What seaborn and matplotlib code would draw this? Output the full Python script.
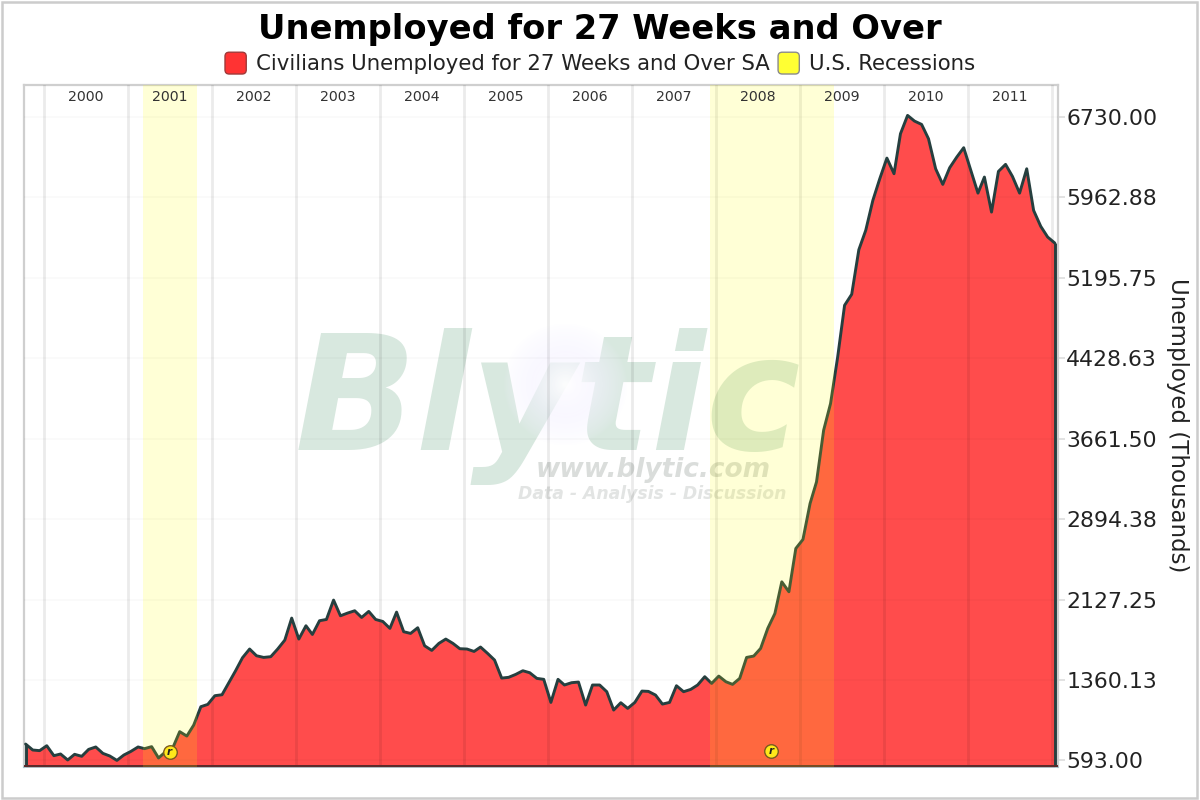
"""
plot.py
-------
Unemployed for 27 weeks and over, with U.S. recession bands.
"""

import matplotlib.pyplot as plt
import matplotlib.transforms as mtrans
from matplotlib.legend_handler import HandlerPatch
from matplotlib.patches import FancyBboxPatch, Patch, Rectangle
import numpy as np
import pandas as pd
import seaborn as sns

# ── Data ─────────────────────────────────────────────────────────────────────
FIRST_OBS = "1999-10-01"
UNEMPLOYED = [
    750, 693, 687, 734, 639, 655, 598, 652, 633, 699, 722, 661, 636, 594, 645, 680, 722, 706,
    725, 617, 677, 709, 868, 826, 931, 1106, 1128, 1211, 1220, 1328, 1449, 1573, 1656, 1592,
    1576, 1583, 1656, 1741, 1951, 1751, 1878, 1795, 1926, 1938, 2123, 1973, 1999, 2021, 1957,
    2015, 1938, 1919, 1853, 2008, 1821, 1805, 1859, 1687, 1643, 1710, 1751, 1710, 1659, 1656,
    1633, 1675, 1614, 1551, 1379, 1386, 1414, 1449, 1430, 1376, 1367, 1147, 1367, 1313, 1335,
    1341, 1122, 1313, 1313, 1249, 1074, 1144, 1090, 1147, 1255, 1252, 1217, 1131, 1147, 1306,
    1249, 1271, 1313, 1392, 1328, 1398, 1344, 1319, 1376, 1576, 1589, 1662, 1853, 1995, 2297,
    2202, 2615, 2701, 3044, 3250, 3743, 3997, 4442, 4934, 5039, 5464, 5649, 5935, 6141, 6338,
    6189, 6570, 6745, 6691, 6659, 6522, 6236, 6087, 6246, 6348, 6437, 6220, 6004, 6157, 5823,
    6211, 6278, 6163, 6004, 6236, 5839, 5687, 5585, 5528,
]
RECESSIONS = [("2001-03-05", "2001-10-28"), ("2007-12-05", "2009-05-28")]
EVENT_DATES = ["2001-06-30", "2008-08-26"]
EVENT_VALUES = [675, 685]
YEARS = list(range(2000, 2012))
YTICKS = [593.00, 1360.13, 2127.25, 2894.38, 3661.50, 4428.63, 5195.75, 5962.88, 6730.00]

TITLE = "Unemployed for 27 Weeks and Over"
SERIES_LABEL = "Civilians Unemployed for 27 Weeks and Over SA"
BAND_LABEL = "U.S. Recessions"

# ── Style ────────────────────────────────────────────────────────────────────
sns.set_theme(style="white")
plt.rcParams["font.family"] = ["DejaVu Sans"]
RED = "#FF3333"
LINE = "#263F3F"
GRID = "#000000"
TEXT = "#222222"


class RoundHandler(HandlerPatch):
    """Legend swatch with rounded corners."""

    def create_artists(self, legend, orig, xd, yd, w, h, fontsize, trans):
        box = FancyBboxPatch((-xd + 2, -yd + 1), w - 4, h - 2, boxstyle="round,pad=2,rounding_size=3",
                             facecolor=orig.get_facecolor(), edgecolor=orig.get_edgecolor(),
                             lw=1.0, transform=trans)
        return [box]


df = pd.DataFrame({
    # points sit a little after the month gridline, as in the source chart
    "date": pd.date_range(FIRST_OBS, periods=len(UNEMPLOYED), freq="MS") + pd.Timedelta(days=12),
    "unemployed": UNEMPLOYED,
})

fig = plt.figure(figsize=(12, 8), dpi=100)
ax = fig.add_axes([24 / 1200, 1 - 767 / 800, 1034 / 1200, 682 / 800])
x_left, x_right = pd.Timestamp("1999-10-06"), pd.Timestamp("2012-01-27")
y_low, y_high = 531, 7035

# ── Watermark ────────────────────────────────────────────────────────────────
ax.text(0.262, 0.465, "Blytic", transform=ax.transAxes, weight="bold", style="italic",
        fontsize=115, color="#D8E8DF", ha="left", va="baseline", zorder=1)
ax.text(0.6085, 0.435, "www.blytic.com", transform=ax.transAxes, weight="bold",
        style="italic", fontsize=19, color="#DADDDB", ha="center", va="center", zorder=1)
ax.text(0.6075, 0.401, "Data - Analysis - Discussion", transform=ax.transAxes,
        weight="bold", style="italic", fontsize=12.4, color="#E2E4E3", ha="center", va="center", zorder=1)

# soft glow behind the logo, white in the middle and lavender at the rim
gy, gx = np.mgrid[-1:1:120j, -1:1:120j]
dist = np.hypot(gx, gy)
core = np.clip(1 - dist / 0.55, 0, 1)
glow = np.zeros((120, 120, 4))
glow[..., 0] = 0.96 + 0.04 * core
glow[..., 1] = 0.95 + 0.05 * core
glow[..., 2] = 1.0
glow[..., 3] = np.clip(1 - dist, 0, 1) ** 0.7 * 0.95
ax.imshow(glow, transform=ax.transAxes, extent=(0.463, 0.583, 0.47, 0.65), aspect="auto", zorder=1.5)

# ── Area + line ──────────────────────────────────────────────────────────────
ax.fill_between(df["date"], df["unemployed"], y_low, color=RED, alpha=0.88, lw=0, zorder=2)
sns.lineplot(data=df, x="date", y="unemployed", color=LINE, lw=2.1, ax=ax, zorder=4, legend=False)
ax.vlines([df["date"].iloc[0], df["date"].iloc[-1]], y_low, [df["unemployed"].iloc[0], df["unemployed"].iloc[-1]],
          color=LINE, lw=2.1, zorder=4)
ax.axhline(y_low + 8, color="#5A2A2A", lw=1.4, zorder=4)
ax.set_xlim(x_left, x_right)
ax.set_ylim(y_low, y_high)

# ── Grid ─────────────────────────────────────────────────────────────────────
for year in YEARS + [2012]:
    ax.axvline(pd.Timestamp(f"{year}-01-01"), color=GRID, alpha=0.08, lw=2.0, zorder=3)
for tick in YTICKS:
    ax.axhline(tick, color=GRID, alpha=0.02, lw=1.5, zorder=3)

# ── Recessions ───────────────────────────────────────────────────────────────
for start, end in RECESSIONS:
    ax.axvspan(pd.Timestamp(start), pd.Timestamp(end), color="#FFFF00", alpha=0.16, lw=0, zorder=5)

# ── Events ───────────────────────────────────────────────────────────────────
event_x = pd.to_datetime(EVENT_DATES)
ax.scatter(event_x, EVENT_VALUES, s=95, c="#FFE81A", edgecolors="#7A5A20", linewidths=1.0, zorder=6)
for d, v in zip(event_x, EVENT_VALUES):
    ax.text(d, v, "r", fontsize=7.5, weight="bold", style="italic", color="#222222",
            ha="center", va="center", zorder=7)

# ── Year labels ──────────────────────────────────────────────────────────────
year_trans = mtrans.blended_transform_factory(ax.transData, ax.transAxes)
for year in YEARS:
    ax.text(pd.Timestamp(f"{year}-07-01"), 0.982, str(year), transform=year_trans, fontsize=10.2,
            color="#333333", ha="center", va="center", zorder=7)

# ── Axes ─────────────────────────────────────────────────────────────────────
ax.set_xlabel("")
ax.set_xticks([])
ax.yaxis.tick_right()
ax.set_yticks(YTICKS)
ax.set_yticklabels([f"{t:.2f}" for t in YTICKS], fontsize=15.8, color=TEXT)
ax.tick_params(axis="y", length=5, width=1.2, color="#DDDDDD", pad=1)
ax.yaxis.set_label_position("right")
ax.set_ylabel("Unemployed (Thousands)", fontsize=16.5, rotation=270, color=TEXT, va="center")
ax.yaxis.set_label_coords(1.116, 0.5015)
for side in ["top", "left", "right"]:
    ax.spines[side].set_color("#CFCFCF")
    ax.spines[side].set_linewidth(1.6)
ax.spines["bottom"].set_color("#9FC0C8")
ax.spines["bottom"].set_linewidth(1.2)

# ── Title + legend ───────────────────────────────────────────────────────────
fig.text(0.5, 1 - 30 / 800, TITLE, fontsize=24.3, weight="bold", color="#000000", ha="center", va="center")
handles = [Patch(facecolor=RED, edgecolor="#A03A3A", label=SERIES_LABEL),
           Patch(facecolor="#FFFF33", edgecolor="#8A8A8A", label=BAND_LABEL)]
fig.legend(handles=handles, loc="center", bbox_to_anchor=(0.5, 1 - 64 / 800), ncol=2, frameon=False,
           fontsize=15.3, labelcolor=TEXT, handlelength=1.0, handleheight=1.0, handletextpad=0.45,
           columnspacing=0.4, handler_map={Patch: RoundHandler()})

# outer frame
fig.add_artist(Rectangle((2 / 1200, 2 / 800), 1195 / 1200, 796 / 800, transform=fig.transFigure,
                         fill=False, edgecolor="#CCCCCC", lw=1.8))

fig.savefig("out.png", dpi=100)
